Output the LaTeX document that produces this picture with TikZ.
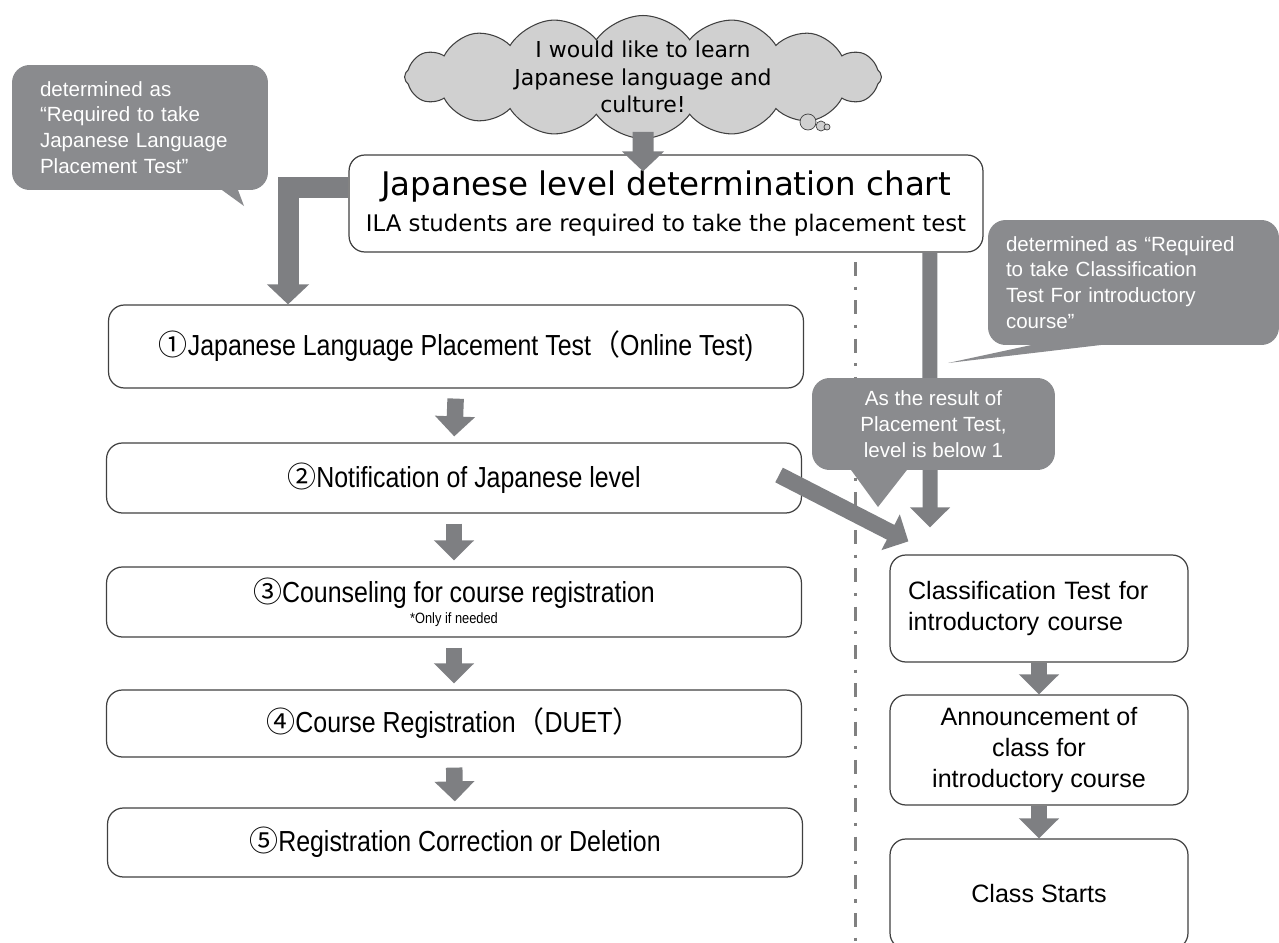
\documentclass[tikz,border=0pt]{standalone}
\usepackage{fontspec}
\setmainfont{Liberation Sans}
\newfontfamily\narrowfont[FakeStretch=0.86]{Liberation Sans}
\newfontfamily\roundfont{DejaVu Sans}
\newfontfamily\cjkfont{Noto Sans CJK JP}
\usetikzlibrary{arrows.meta,shapes.symbols}
\definecolor{arrowgray}{HTML}{7E7F82}
\definecolor{notegray}{HTML}{8A8B8E}
\definecolor{cloudgray}{HTML}{D0D0D0}
\definecolor{edgegray}{HTML}{404040}
\definecolor{sepgray}{HTML}{808080}

\begin{document}
\begin{tikzpicture}[x=0.02cm,y=-0.02cm,
  stepbox/.style={draw=edgegray,line width=0.7pt,rounded corners=9pt,fill=white,align=center,inner sep=0pt},
  leftbox/.style={stepbox,minimum width=13.9cm,minimum height=1.38cm,font=\narrowfont\fontsize{16.5}{19}\selectfont},
  rightbox/.style={stepbox,minimum width=5.96cm,font=\fontsize{14.3}{17.5}\selectfont},
  note/.style={fill=notegray,rounded corners=10pt,text=white,inner sep=0pt,font=\fontsize{11.7}{14.7}\selectfont},
  fatarrow/.style={draw=arrowgray,line width=0.33cm,-{Triangle[length=0.4cm,width=0.78cm]}},
  widearrow/.style={fatarrow,line width=0.42cm,-{Triangle[length=0.4cm,width=0.82cm]}},
]
    \useasboundingbox (0,0) rectangle (1279,943);
    \clip (0,0) rectangle (1279,943);

    % separator
    \draw[sepgray,line width=1.7pt,dash pattern=on 8pt off 6pt on 1.8pt off 6pt] (855,262) -- (855,943);

    % wish and chart
    \node[cloud,cloud puffs=16,cloud puff arc=110,cloud ignores aspect,draw=edgegray,line width=0.6pt,fill=cloudgray,
          minimum width=9.54cm,minimum height=2.46cm,inner sep=0pt] (wish) at (643,77) {};
    \node[align=center,font=\roundfont\fontsize{12.5}{15.5}\selectfont] (wishtext) at (wish.center)
          {I would like to learn\\Japanese language and\\culture!};
    \draw[edgegray,fill=cloudgray] (808,122) circle[radius=0.16cm];
    \draw[edgegray,fill=cloudgray] (821,126) circle[radius=0.1cm];
    \draw[edgegray,fill=cloudgray] (827,127) circle[radius=0.06cm];

    \node[stepbox,minimum width=12.68cm,minimum height=1.94cm,font=\roundfont\fontsize{18.5}{20}\selectfont] (chart) at (666,203.5)
          {Japanese level determination chart\\[1pt]
           {\fontsize{13}{14}\selectfont ILA students are required to take the placement test}};

    % left column
    \node[leftbox,minimum height=1.66cm] (b1) at (456,346.5)
          {{\cjkfont ①}Japanese Language Placement Test{\cjkfont （}Online Test)};
    \node[leftbox,minimum height=1.4cm] (b2) at (454,478)
          {\hspace*{0.4cm}{\cjkfont ②}Notification of Japanese level};
    \node[leftbox,minimum height=1.4cm] (b3) at (454,602)
          {{\cjkfont ③}Counseling for course registration\\[-7pt]{\fontsize{8.5}{10}\selectfont *Only if needed}};
    \node[leftbox,minimum height=1.34cm] (b4) at (454,723.5)
          {{\cjkfont ④}Course Registration{\cjkfont （}DUET{\cjkfont ）}};
    \node[leftbox,minimum height=1.38cm] (b5) at (455,842.5)
          {{\cjkfont ⑤}Registration Correction or Deletion};

    % right column
    \node[rightbox,minimum height=2.14cm,text width=5.24cm,align=left] (c1) at (1039,608.5)
          {Classification Test for\\introductory course};
    \node[rightbox,minimum height=2.2cm] (c2) at (1039,750)
          {Announcement of\\class for\\introductory course};
    \node[rightbox,minimum height=2.2cm] (c3) at (1039,894)
          {Class Starts};

    % callouts
    \node[note,minimum width=5.12cm,minimum height=2.5cm,text width=4cm,align=left] (lnote) at (140,127.5)
          {determined as\\``Required to take\\Japanese Language\\Placement Test''};
    \coordinate (ltip) at (244,206);
    \fill[notegray] ([xshift=1.6cm,yshift=1pt]lnote.south) -- (ltip) -- ([xshift=1.95cm,yshift=1pt]lnote.south) -- cycle;

    \node[note,minimum width=5.82cm,minimum height=2.5cm,text width=5.1cm,align=left] (rnote) at (1133.5,282.5)
          {determined as ``Required\\to take Classification\\Test For introductory\\course''};
    \coordinate (rtip) at (948,363);

    % arrows
    \draw[widearrow] ([yshift=-1.1cm]wish.center) -- ([xshift=-0.46cm,yshift=-0.34cm]chart.north);
    \draw[widearrow,line join=miter] ([yshift=0.33cm]chart.west) -| ([xshift=-3.36cm]b1.north);
    \draw[fatarrow,line width=0.3cm] ([xshift=5.28cm]chart.south) -- ([xshift=-2.18cm,yshift=0.54cm]c1.north);
    \fill[notegray] ([xshift=-1.91cm,yshift=1pt]rnote.south) -- (rtip) -- ([xshift=-0.41cm,yshift=1pt]rnote.south) -- cycle;

    \node[note,minimum width=4.86cm,minimum height=1.84cm,align=center] (mnote) at (933.5,424)
          {As the result of\\Placement Test,\\level is below 1};
    \coordinate (mtip) at (878,507);
    \fill[notegray] ([xshift=-1.67cm,yshift=1pt]mnote.south) -- (mtip) -- ([xshift=-0.51cm,yshift=1pt]mnote.south) -- cycle;

    \draw[fatarrow] ([xshift=-0.46cm,yshift=0.06cm]b2.east) -- ([xshift=0.38cm,yshift=0.26cm]c1.north west);

    \foreach \from/\to in {b1/b2,b2/b3,b3/b4,b4/b5}
      \draw[fatarrow,shorten <=0.2cm,shorten >=0.12cm] (\from.south) -- (\to.north);
    \foreach \from/\to in {c1/c2,c2/c3}
      \draw[fatarrow] (\from.south) -- (\to.north);

\end{tikzpicture}
\end{document}
